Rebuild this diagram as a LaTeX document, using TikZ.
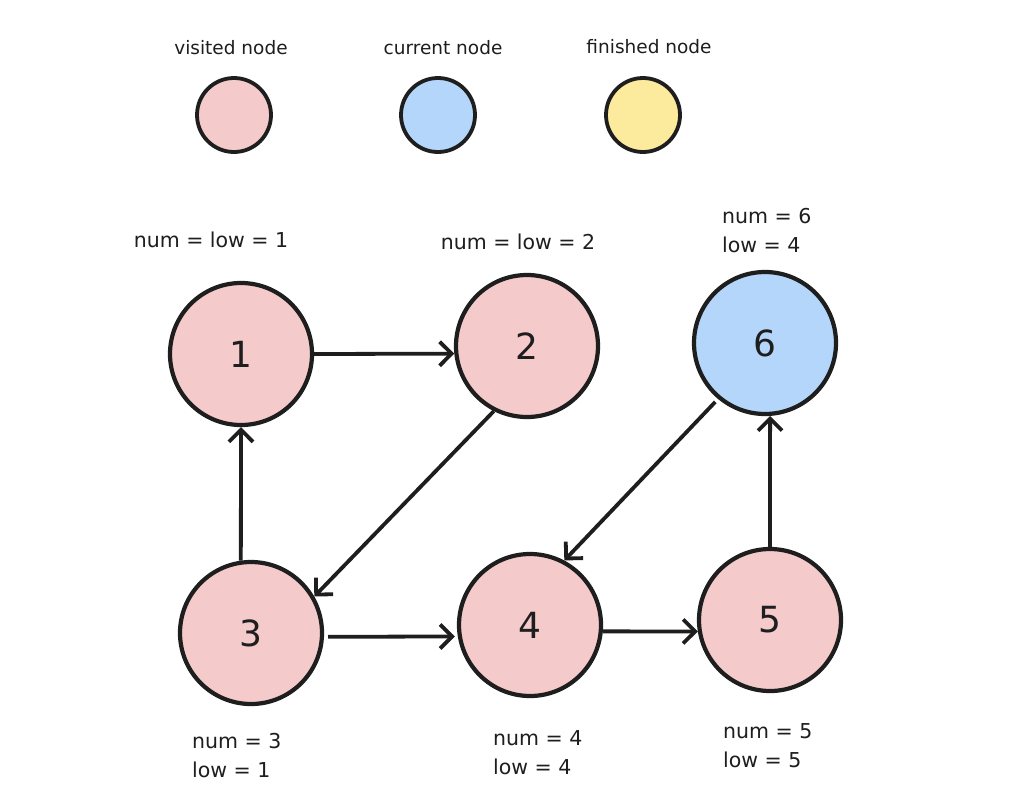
\documentclass[tikz,border=0pt]{standalone}
\usepackage{fontspec}
\setmainfont{DejaVu Sans}
\usetikzlibrary{arrows.meta}
\definecolor{ink}{HTML}{1E1E1E}
\definecolor{visited}{HTML}{F4CACA}
\definecolor{current}{HTML}{B3D6FA}
\definecolor{finished}{HTML}{FCEA9D}
\begin{document}
\begin{tikzpicture}[x=1pt,y=-1pt,
  gnode/.style={circle,draw=ink,line width=4.2pt,minimum size=142pt,inner sep=0pt,
    font=\fontsize{36}{40}\selectfont,text=ink},
  lnode/.style={circle,draw=ink,line width=3.8pt,minimum size=74pt,inner sep=0pt},
  legend/.style={font=\fontsize{18.5}{22}\selectfont,text=ink},
  info/.style={font=\fontsize{20.5}{29}\selectfont,text=ink,align=left,inner sep=0pt},
  arr/.style={draw=ink,line width=3.8pt,-{Straight Barb[length=12pt,width=24pt,line width=3.8pt]}}
]
\useasboundingbox (0,0) rectangle (1024,806);
\fill[white] (0,0) rectangle (1024,806);

% legend
\node[legend] (lt1) at (231,48) {visited node};
\node[legend] (lt2) at (443,48) {current node};
\node[legend] (lt3) at (649,47) {finished node};
\node[lnode,fill=visited] (lc1) at (234,115) {};
\node[lnode,fill=current] (lc2) at (438,115) {};
\node[lnode,fill=finished] (lc3) at (643,115) {};

% graph nodes
\node[gnode,fill=visited] (n1) at (241,354) {1};
\node[gnode,fill=visited] (n2) at (527,346) {2};
\node[gnode,fill=current] (n6) at (765,343) {6};
\node[gnode,fill=visited] (n3) at (251,633) {3};
\node[gnode,fill=visited] (n4) at (530,625) {4};
\node[gnode,fill=visited] (n5) at (770,620) {5};

% labels
\node[info] (i1) at (211,240) {num = low = 1};
\node[info] (i2) at (518,242) {num = low = 2};
\node[info,anchor=west] (i6) at (722,231) {num = 6\\low = 4};
\node[info,anchor=west] (i3) at (192,756) {num = 3\\low = 1};
\node[info,anchor=west] (i4) at (493,753) {num = 4\\low = 4};
\node[info,anchor=west] (i5) at (723,746) {num = 5\\low = 5};

% edges
\draw[arr] (n1.0) -- (n2.186);
\draw[arr] (n2.243) -- (n3.30);
\draw[arr] (n3.98) -- (n1.south);
\draw[arr,shorten <=4pt,shorten >=3pt] (n3.-3) -- (n4.189);
\draw[arr] (n4.-5) -- (n5.189);
\draw[arr] (n5.north) -- (n6.-86);
\draw[arr,shorten <=4pt] (n6.230) -- (n4.62);
\end{tikzpicture}
\end{document}
